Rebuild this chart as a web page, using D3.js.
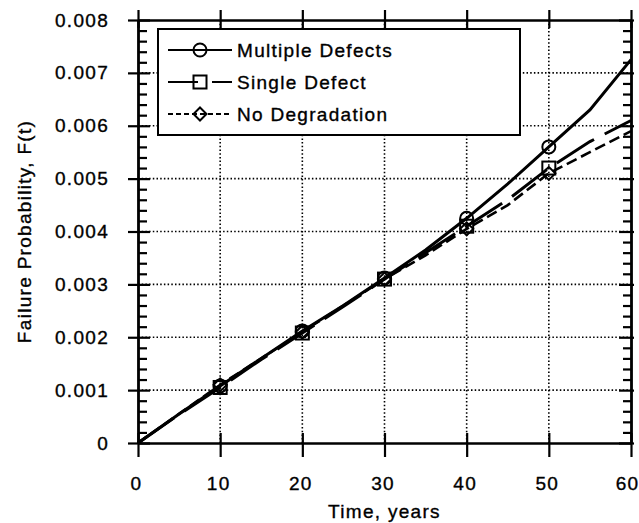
<!DOCTYPE html>
<html>
<head>
  <style>
    body, html { margin: 0; padding: 0; background: #fff; }
    svg text { font-family: "Liberation Sans", Arial, sans-serif; fill: #000; stroke: #000; stroke-width: 0.35px; font-size: 19px; letter-spacing: 1.3px; }
  </style>
</head>
<body>
  <svg id="svg" width="639" height="523"></svg>

  <script src="https://d3js.org/d3.v7.min.js"></script>
  <script>
    // values
    const years = [0, 5, 10, 15, 20, 25, 30, 35, 40, 45, 50, 55, 60]
    const multipleDefects = [0, 0.00055, 0.00108, 0.0016, 0.00212, 0.0026, 0.00312, 0.00365, 0.00425, 0.0049, 0.0056, 0.0063, 0.00725]
    const singleDefect = [0, 0.00054, 0.00105, 0.00158, 0.00208, 0.00258, 0.0031, 0.0036, 0.0041, 0.0046, 0.0052, 0.0057, 0.0061]
    const noDegradation = [0, 0.00055, 0.0011, 0.0016, 0.0021, 0.0026, 0.0031, 0.00355, 0.00405, 0.0045, 0.0051, 0.0055, 0.0059]
    const markerYears = [10, 20, 30, 40, 50]

    const xTicks = [0, 10, 20, 30, 40, 50, 60]
    const yTicks = [0, 0.001, 0.002, 0.003, 0.004, 0.005, 0.006, 0.007, 0.008]
    const yTickLabels = ["0", "0.001", "0.002", "0.003", "0.004", "0.005", "0.006", "0.007", "0.008"]
    const seriesNames = ["Multiple Defects", "Single Defect", "No Degradation"]

    const plotLeft = 138, plotRight = 631, plotTop = 20, plotBottom = 443

    const x = d3.scaleLinear().domain([0, 60]).range([plotLeft, plotRight])
    const y = d3.scaleLinear().domain([0, 0.008]).range([plotBottom, plotTop])
    const yMinor = d3.range(0, 40).map(i => i * 0.0002).filter(v => !yTicks.some(t => Math.abs(t - v) < 1e-9))

    const svg = d3.select("#svg")

    // dotted grid
    const grid = svg.append("g")
      .attr("stroke", "#000")
      .attr("stroke-width", 1.6)
      .attr("stroke-dasharray", "1.5,2.2")
    grid.selectAll(".gx").data(xTicks.slice(1, -1)).join("line")
      .attr("x1", d => x(d)).attr("x2", d => x(d))
      .attr("y1", plotTop).attr("y2", plotBottom)
    grid.selectAll(".gy").data(yTicks.slice(1, -1)).join("line")
      .attr("x1", plotLeft).attr("x2", plotRight)
      .attr("y1", d => y(d)).attr("y2", d => y(d))

    const series = [
      { name: seriesNames[0], values: multipleDefects, dash: null, legendDash: null, width: 3, marker: "circle" },
      { name: seriesNames[1], values: singleDefect, dash: "44,12", legendDash: "30,14", width: 3, marker: "square" },
      { name: seriesNames[2], values: noDegradation, dash: "11,5", legendDash: "5,3", width: 2.6, marker: "diamond" }
    ]

    const lineGen = d3.line()
      .x((d, i) => x(years[i]))
      .y(d => y(d))

    function drawMarker(g, kind, cx, cy) {
      if (kind === "circle") {
        g.append("circle").attr("cx", cx).attr("cy", cy).attr("r", 6.5)
      } else if (kind === "square") {
        g.append("rect").attr("x", cx - 6.5).attr("y", cy - 6.5).attr("width", 13).attr("height", 13)
      } else {
        const s = 6.5
        g.append("path").attr("d", `M${cx},${cy - s}L${cx + s},${cy}L${cx},${cy + s}L${cx - s},${cy}Z`)
      }
    }

    const plot = svg.append("g")
    series.forEach(s => {
      plot.append("path")
        .attr("d", lineGen(s.values))
        .attr("fill", "none")
        .attr("stroke", "#000")
        .attr("stroke-width", s.width)
        .attr("stroke-dasharray", s.dash)
      const mg = plot.append("g").attr("fill", "none").attr("stroke", "#000").attr("stroke-width", 2)
      years.forEach((yr, i) => {
        if (markerYears.includes(yr)) drawMarker(mg, s.marker, x(yr), y(s.values[i]))
      })
    })

    // legend
    const legend = svg.append("g")
    legend.append("rect")
      .attr("x", 158).attr("y", 29).attr("width", 362).attr("height", 106)
      .attr("fill", "#fff").attr("stroke", "#000").attr("stroke-width", 2)
    series.forEach((s, i) => {
      const ly = 50 + i * 32
      legend.append("line")
        .attr("x1", 168).attr("x2", 232).attr("y1", ly).attr("y2", ly)
        .attr("stroke", "#000").attr("stroke-width", 2.2)
        .attr("stroke-dasharray", s.legendDash)
      const mg = legend.append("g").attr("fill", "none").attr("stroke", "#000").attr("stroke-width", 2)
      drawMarker(mg, s.marker, 200, ly)
      legend.append("text").attr("x", 237).attr("y", ly + 7).text(s.name)
    })

    // axes
    const bottomAxis = svg.append("g")
      .attr("transform", `translate(0,${plotBottom})`)
      .call(d3.axisBottom(x).tickValues(xTicks).tickSize(14).tickSizeOuter(0).tickPadding(20))
    bottomAxis.selectAll(".tick line").attr("y1", -10)
    bottomAxis.selectAll(".tick text").attr("dx", d => d === 60 ? -4 : -2)

    const topAxis = svg.append("g")
      .attr("transform", `translate(0,${plotTop})`)
      .call(d3.axisTop(x).tickValues(xTicks).tickSize(10).tickSizeOuter(0).tickFormat(""))
    topAxis.selectAll(".tick line").attr("y1", 8)

    const leftAxis = svg.append("g")
      .attr("transform", `translate(${plotLeft},0)`)
      .call(d3.axisLeft(y).tickValues(yTicks).tickSize(10).tickSizeOuter(0).tickPadding(19)
        .tickFormat((d, i) => yTickLabels[i]))
    leftAxis.selectAll(".tick line").attr("x1", 12)
    svg.append("g")
      .attr("transform", `translate(${plotLeft},0)`)
      .call(d3.axisLeft(y).tickValues(yMinor).tickSize(-9).tickSizeOuter(0).tickFormat(""))

    const rightAxis = svg.append("g")
      .attr("transform", `translate(${plotRight},0)`)
      .call(d3.axisRight(y).tickValues(yTicks).tickSize(3).tickSizeOuter(0).tickFormat(""))
    rightAxis.selectAll(".tick line").attr("x1", -12)
    svg.append("g")
      .attr("transform", `translate(${plotRight},0)`)
      .call(d3.axisRight(y).tickValues(yMinor).tickSize(-8).tickSizeOuter(0).tickFormat(""))

    svg.selectAll(".domain").attr("stroke-width", 2.4)
    svg.selectAll(".tick line").attr("stroke-width", 2.2)
    svg.selectAll(".tick text")
      .style("font-family", '"Liberation Sans", Arial, sans-serif')
      .style("font-size", "19px")
      .style("letter-spacing", "1.3px")
      .style("stroke", "#000")
      .style("stroke-width", "0.35px")

    // axis titles
    svg.append("text")
      .attr("x", (plotLeft + plotRight) / 2)
      .attr("y", 518)
      .attr("text-anchor", "middle")
      .text("Time, years")

    svg.append("text")
      .attr("transform", `translate(31,${(plotTop + plotBottom) / 2}) rotate(-90)`)
      .attr("text-anchor", "middle")
      .text("Failure Probability, F(t)")
  </script>
</body>
</html>
